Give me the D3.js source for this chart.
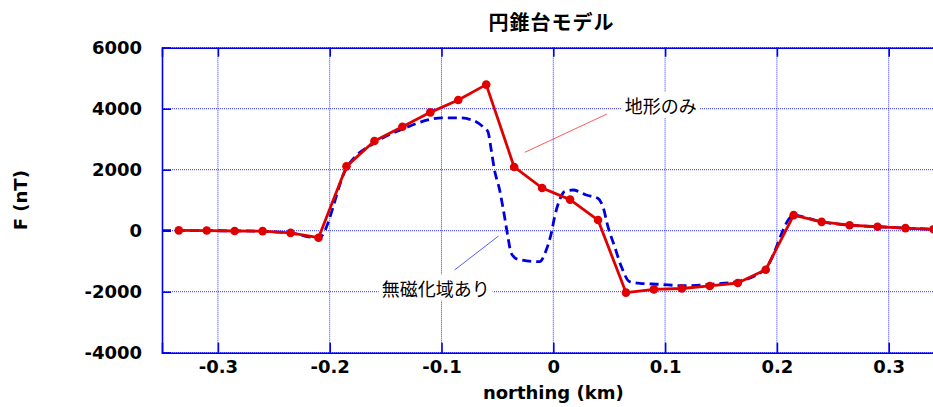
<!DOCTYPE html>
<html>
<head>
<meta charset="utf-8">
<script src="https://cdn.jsdelivr.net/npm/d3@7"></script>
<style>
  html, body { margin: 0; padding: 0; background: #fff; overflow: hidden; }
  svg { display: block; }
</style>
</head>
<body>
<svg id="chart" width="933" height="407"></svg>
<script>
// ---- data ----
const title = "円錐台モデル";
const xLabel = "northing (km)";
const yLabel = "F (nT)";
const xTicks = [-0.3, -0.2, -0.1, 0, 0.1, 0.2, 0.3];
const xTickLabels = ["-0.3", "-0.2", "-0.1", "0", "0.1", "0.2", "0.3"];
const yTicks = [-4000, -2000, 0, 2000, 4000, 6000];
const yTickLabels = ["-4000", "-2000", "0", "2000", "4000", "6000"];

// 地形のみ (topography only) - red with markers
const xTopo = [-0.335, -0.31, -0.285, -0.26, -0.235, -0.21, -0.185, -0.16, -0.135, -0.11, -0.085, -0.06,
               -0.035, -0.01, 0.015, 0.04, 0.065, 0.09, 0.115, 0.14, 0.165, 0.19, 0.215, 0.24, 0.265, 0.29, 0.315, 0.34];
const fTopo = [10, 5, -10, -15, -70, -230, 2110, 2940, 3410, 3880, 4285, 4790,
               2090, 1400, 1020, 350, -2030, -1925, -1895, -1812, -1715, -1280, 510, 290, 180, 130, 85, 45];

// 無磁化域あり (with non-magnetized zone) - blue dashed
const xMag = [-0.35, -0.335, -0.31, -0.285, -0.26, -0.235, -0.21, -0.185, -0.16, -0.135, -0.11, -0.1, -0.084, -0.072,
              -0.063, -0.0585, -0.0555, -0.0526, -0.048, -0.0436, -0.0406, -0.0376, -0.0317, -0.0123, -0.0063, -0.0018,
              0.0012, 0.0056, 0.0101, 0.0175, 0.0295, 0.0399, 0.0444, 0.0489, 0.0549, 0.0609, 0.0683, 0.0773, 0.095,
              0.116, 0.143, 0.1668, 0.19, 0.215, 0.24, 0.265, 0.29, 0.315, 0.35];
const fMag = [0, 0, 0, -5, -20, -80, -240, 2050, 2880, 3330, 3650, 3700, 3700, 3620,
              3410, 3246, 2646, 1990, 1334, 459, -197, -741, -938, -1016, -633, -85,
              459, 1006, 1280, 1334, 1170, 1062, 787, 131, -525, -1180, -1672, -1725, -1757,
              -1803, -1750, -1650, -1230, 500, 290, 180, 130, 85, 30];

// annotations: [label, textX, textY, lineFromX, lineFromY, lineToX, lineToY] in data units
const annTopo = ["地形のみ", 0.064, 4066, -0.0255, 2570, 0.048, 3826];
const annMag = ["無磁化域あり", -0.1535, -1921, -0.0884, -1290, -0.049, -174];

// ---- layout ----
const svg = d3.select("#chart");
const L = 162, R = 944.6, T = 47.7, B = 352.7;
const x = d3.scaleLinear().domain([-0.35, 0.35]).range([L, R]);
const y = d3.scaleLinear().domain([-4000, 6000]).range([B, T]);
const axisColor = "#0000ee";
const gridColor = "#3030ff";
const red = "#e00000";
const blue = "#0000dd";
const tickFont = "DejaVu Sans, Verdana, sans-serif";
const cjkFont = "'Noto Sans CJK JP', 'Noto Sans', sans-serif";

// grid
const grid = svg.append("g");
grid.selectAll("line.gx").data(xTicks).join("line")
  .attr("x1", d => x(d)).attr("x2", d => x(d)).attr("y1", T).attr("y2", B)
  .attr("stroke", gridColor).attr("stroke-width", 1).attr("stroke-dasharray", "1,1");
grid.selectAll("line.gy").data(yTicks).join("line")
  .attr("x1", L).attr("x2", R).attr("y1", d => y(d)).attr("y2", d => y(d))
  .attr("stroke", gridColor).attr("stroke-width", 1).attr("stroke-dasharray", "1,1");

// annotations (under the data lines)
function annotate(a, color) {
  const g = svg.append("g");
  g.append("line")
    .attr("x1", x(a[3])).attr("y1", y(a[4])).attr("x2", x(a[5])).attr("y2", y(a[6]))
    .attr("stroke", color).attr("stroke-width", 0.8);
  const bg = g.append("rect").attr("fill", "#fff");
  const t = g.append("text")
    .attr("x", x(a[1])).attr("y", y(a[2])).attr("dy", "0.35em")
    .attr("font-family", cjkFont).attr("font-size", 18).attr("fill", "#000")
    .text(a[0]);
  const bb = t.node().getBBox();
  bg.attr("x", bb.x - 3).attr("y", bb.y).attr("width", bb.width + 6).attr("height", bb.height);
}
annotate(annTopo, "#ff3030");
annotate(annMag, "#3030ff");

// blue dashed line
const magData = xMag.map((d, i) => [d, fMag[i]]);
svg.append("path").datum(magData)
  .attr("fill", "none").attr("stroke", blue).attr("stroke-width", 2.8)
  .attr("stroke-dasharray", "9,5")
  .attr("d", d3.line().x(d => x(d[0])).y(d => y(d[1])).curve(d3.curveMonotoneX));

// red line + markers
const topoData = xTopo.map((d, i) => [d, fTopo[i]]);
svg.append("path").datum(topoData)
  .attr("fill", "none").attr("stroke", red).attr("stroke-width", 2.8)
  .attr("stroke-linejoin", "round")
  .attr("d", d3.line().x(d => x(d[0])).y(d => y(d[1])));
svg.append("g").selectAll("circle").data(topoData).join("circle")
  .attr("cx", d => x(d[0])).attr("cy", d => y(d[1])).attr("r", 4.3).attr("fill", red);

// axes
const xAxis = svg.append("g").attr("transform", `translate(0,${B})`)
  .call(d3.axisBottom(x).tickValues(xTicks).tickSize(-10).tickPadding(8)
        .tickFormat((d, i) => xTickLabels[i]));
const xAxisTop = svg.append("g").attr("transform", `translate(0,${T})`)
  .call(d3.axisTop(x).tickValues(xTicks).tickSize(-9).tickFormat(""));
const yAxis = svg.append("g").attr("transform", `translate(${L},0)`)
  .call(d3.axisLeft(y).tickValues(yTicks).tickSize(-9).tickPadding(20)
        .tickFormat((d, i) => yTickLabels[i]));
[xAxis, xAxisTop, yAxis].forEach(g => {
  g.select(".domain").attr("stroke", axisColor).attr("stroke-width", 1.6);
  g.selectAll(".tick line").attr("stroke", axisColor).attr("stroke-width", 1.6);
  g.selectAll(".tick text").attr("fill", "#000").attr("font-family", tickFont)
    .attr("font-weight", "bold").attr("font-size", 18);
});
xAxis.selectAll(".tick text").attr("dy", "0.71em");

// titles
svg.append("text").attr("x", 551.5).attr("y", 30).attr("text-anchor", "middle")
  .attr("font-family", cjkFont).attr("font-weight", "bold").attr("font-size", 20)
  .attr("letter-spacing", 1).text(title);
svg.append("text").attr("x", (L + R) / 2).attr("y", 399).attr("text-anchor", "middle")
  .attr("font-family", tickFont).attr("font-weight", "bold").attr("font-size", 18).text(xLabel);
svg.append("text").attr("transform", `translate(27,${(T + B) / 2}) rotate(-90)`)
  .attr("text-anchor", "middle")
  .attr("font-family", tickFont).attr("font-weight", "bold").attr("font-size", 18).text(yLabel);
</script>
</body>
</html>
